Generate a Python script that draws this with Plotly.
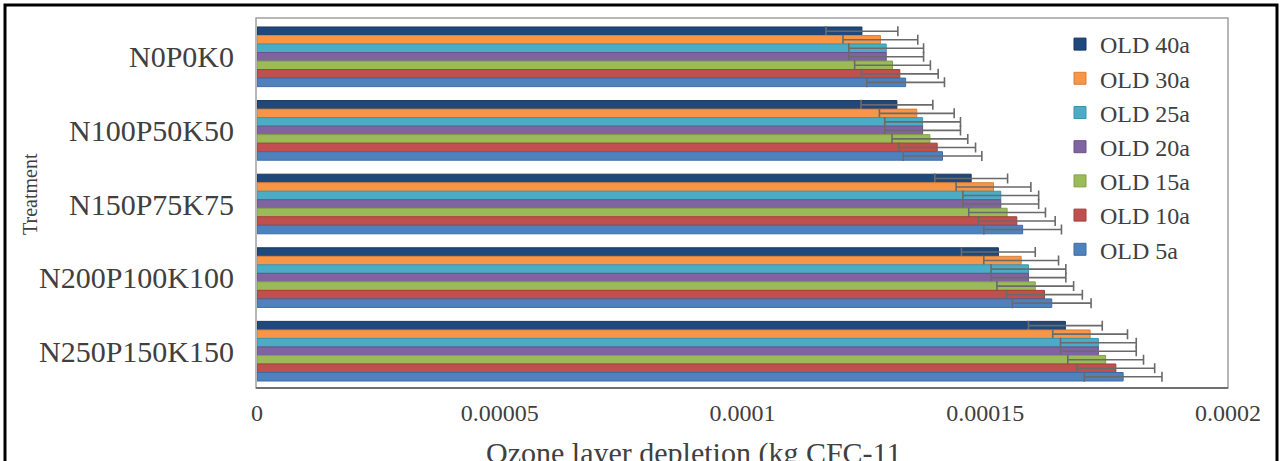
import plotly.graph_objects as go

treatments = ["N0P0K0", "N100P50K50", "N150P75K75", "N200P100K100", "N250P150K150"]
series_names = ["OLD 40a", "OLD 30a", "OLD 25a", "OLD 20a", "OLD 15a", "OLD 10a", "OLD 5a"]

old_40a = [1.246e-4, 1.318e-4, 1.471e-4, 1.527e-4, 1.665e-4]
old_30a = [1.284e-4, 1.359e-4, 1.517e-4, 1.574e-4, 1.716e-4]
old_25a = [1.296e-4, 1.371e-4, 1.532e-4, 1.589e-4, 1.733e-4]
old_20a = [1.296e-4, 1.371e-4, 1.532e-4, 1.589e-4, 1.733e-4]
old_15a = [1.309e-4, 1.386e-4, 1.545e-4, 1.603e-4, 1.748e-4]
old_10a = [1.324e-4, 1.401e-4, 1.565e-4, 1.622e-4, 1.769e-4]
old_5a = [1.336e-4, 1.412e-4, 1.577e-4, 1.637e-4, 1.784e-4]

err_40a = [7.4e-6, 7.4e-6, 7.5e-6, 7.6e-6, 7.6e-6]
err_30a = [7.7e-6, 7.7e-6, 7.7e-6, 7.7e-6, 7.7e-6]
err_25a = [7.7e-6, 7.8e-6, 7.8e-6, 7.7e-6, 7.8e-6]
err_20a = [7.7e-6, 7.8e-6, 7.8e-6, 7.7e-6, 7.8e-6]
err_15a = [7.8e-6, 7.8e-6, 7.9e-6, 7.9e-6, 7.8e-6]
err_10a = [7.9e-6, 7.9e-6, 7.9e-6, 7.8e-6, 8.0e-6]
err_5a = [8.0e-6, 8.1e-6, 8.0e-6, 8.1e-6, 8.0e-6]

x_tickvals = [0, 0.00005, 0.0001, 0.00015, 0.0002]
x_ticktext = ["0", "0.00005", "0.0001", "0.00015", "0.0002"]

values = [old_40a, old_30a, old_25a, old_20a, old_15a, old_10a, old_5a]
errors = [err_40a, err_30a, err_25a, err_20a, err_15a, err_10a, err_5a]
colors = ["#1F497D", "#F79646", "#4BACC6", "#8064A2", "#9BBB59", "#C0504D", "#4F81BD"]
edges = ["#17375E", "#D9803A", "#3A95AE", "#6A5189", "#84A14A", "#A43F3C", "#3F6CA3"]

W, H = 1281, 461
ML, MR, MT, MB = 257, 53, 20, 73
PW, PH = W - ML - MR, H - MT - MB

def px(x):
    return (x - ML) / PW

def py(y):
    return (H - MB - y) / PH

serif = "Liberation Serif"

fig = go.Figure()
for i, name in enumerate(series_names):
    fig.add_trace(go.Bar(
        y=treatments, x=values[i], name=name, orientation="h",
        legendgroup=name,
        marker=dict(color=colors[i], line=dict(color=edges[i], width=1)),
        error_x=dict(type="data", array=errors[i], visible=True,
                     color="#6A6A6A", thickness=1.6, width=5),
    ))

fig.update_layout(
    width=W, height=H,
    margin=dict(l=ML, r=MR, t=MT, b=MB, pad=0),
    paper_bgcolor="white", plot_bgcolor="white",
    barmode="group", bargap=0.19, bargroupgap=0.0,
    font=dict(family=serif, color="#404040"),
    xaxis=dict(range=[0, 0.0002], tickvals=x_tickvals, ticktext=x_ticktext,
               showgrid=False, zeroline=False, showline=False,
               tickfont=dict(size=24, color="#404040", family=serif),
               ticks="", ticklabelstandoff=8),
    yaxis=dict(autorange="reversed", showgrid=False, zeroline=False, showline=False,
               tickfont=dict(size=30, color="#404040", family=serif),
               ticks="", ticklabelstandoff=22),
    legend=dict(x=px(1060), y=py(22), xanchor="left", yanchor="top",
                font=dict(size=24, color="#404040", family=serif),
                tracegroupgap=0, bgcolor="rgba(255,255,255,0)", borderwidth=0),
    showlegend=True,
)

fig.add_shape(type="rect", xref="paper", yref="paper",
              x0=px(256), x1=px(1228), y0=py(388), y1=py(18),
              line=dict(color="#A0A0A0", width=1.5), layer="below")
fig.add_shape(type="line", xref="paper", yref="paper",
              x0=px(256), x1=px(1228), y0=py(388), y1=py(388),
              line=dict(color="#707070", width=2))
fig.add_shape(type="rect", xref="paper", yref="paper",
              x0=px(5), x1=px(1277), y0=py(475), y1=py(5),
              line=dict(color="black", width=3))

fig.add_annotation(text="Treatment", xref="paper", yref="paper",
                   x=px(30), y=py(194), xanchor="center", yanchor="middle",
                   textangle=-90, showarrow=False,
                   font=dict(size=20, color="#404040", family=serif))
fig.add_annotation(text="Ozone layer depletion (kg CFC-11", xref="paper", yref="paper",
                   x=px(693), y=py(434), xanchor="center", yanchor="top", showarrow=False,
                   font=dict(size=30, color="#404040", family=serif))

fig.write_html("out.html", config={"displayModeBar": False},
               post_script="document.body.style.margin='0';document.body.style.overflow='hidden';")
